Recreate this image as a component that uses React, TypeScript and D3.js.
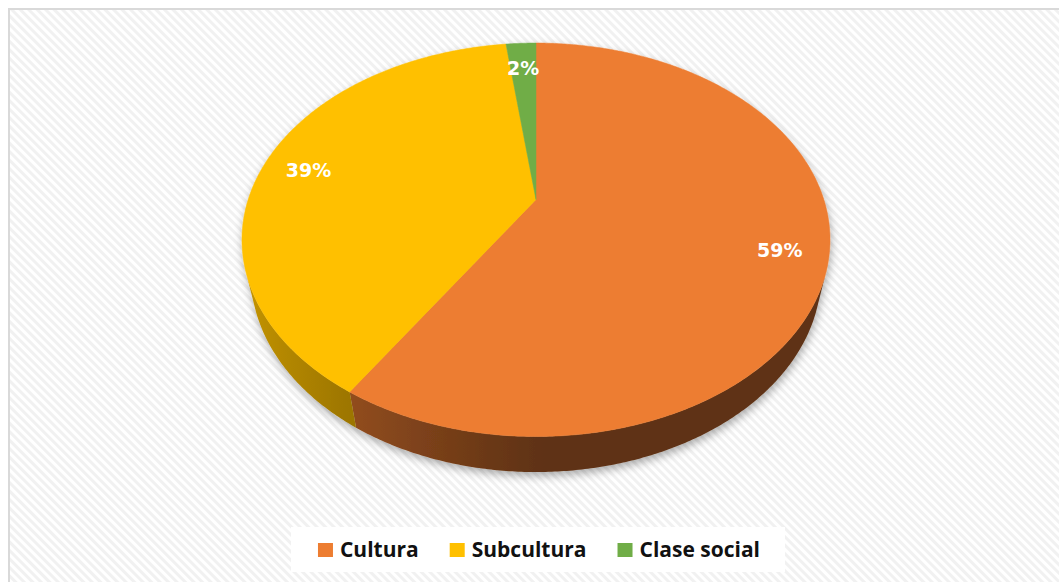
import * as d3 from "d3";
import React, { useEffect, useRef } from "react";

// chart data
const categories = ["Cultura", "Subcultura", "Clase social"];
const values = [59, 39, 2];
const labels = ["59%", "39%", "2%"];
const colors = ["#ED7D31", "#FFC000", "#70AD47"];

const W = 1059;
const H = 582;

// 3D view of the pie (unit radius, perspective camera)
const CX = 536;
const CY = 199.6;
const FOCAL = 1065;
const DIST = 3.7;
const SIN_A = 0.655;
const COS_A = Math.sqrt(1 - SIN_A * SIN_A);
const DEPTH = 0.167;
const LABEL_R = 0.84;

const project = (r: number, theta: number, y: number): [number, number] => {
  const X = r * Math.sin(theta);
  const Z = r * Math.cos(theta);
  const yc = y * COS_A + Z * SIN_A;
  const zc = -y * SIN_A + Z * COS_A + DIST;
  return [CX + (FOCAL * X) / zc, CY - (FOCAL * yc) / zc];
};

const shade = (color: string, theta: number) => {
  const k = 0.4 + 0.4 * Math.max(0, -Math.sin(theta));
  const c = d3.rgb(color);
  return d3.rgb(c.r * k, c.g * k, c.b * k).formatHex();
};

const App = () => {
  const ref = useRef<SVGSVGElement>(null);

  useEffect(() => {
    const svg = d3.select(ref.current);
    svg.selectAll("*").remove();

    const defs = svg.append("defs");
    const pat = defs
      .append("pattern")
      .attr("id", "hatch")
      .attr("patternUnits", "userSpaceOnUse")
      .attr("width", 6)
      .attr("height", 6)
      .attr("patternTransform", "rotate(-45)");
    pat.append("rect").attr("width", 6).attr("height", 6).attr("fill", "#ffffff");
    pat.append("rect").attr("width", 3).attr("height", 6).attr("fill", "#f1f1f1");

    const filt = defs
      .append("filter")
      .attr("id", "shadow")
      .attr("x", "-10%")
      .attr("y", "-10%")
      .attr("width", "120%")
      .attr("height", "130%");
    filt
      .append("feDropShadow")
      .attr("dx", 1)
      .attr("dy", 4)
      .attr("stdDeviation", 4)
      .attr("flood-color", "#000")
      .attr("flood-opacity", 0.32);

    // chart area
    svg
      .append("rect")
      .attr("x", 9)
      .attr("y", 9)
      .attr("width", W + 50)
      .attr("height", H + 50)
      .attr("fill", "url(#hatch)")
      .attr("stroke", "#d9d9d9")
      .attr("stroke-width", 2);

    const arcs = d3.pie<number>().sort(null).value((d) => d)(values);
    const step = Math.PI / 360;
    const line = d3.line();
    const pie = svg.append("g").attr("filter", "url(#shadow)");

    // outer walls, only the part that faces the camera
    const lim = Math.acos(-1 / (DIST * COS_A)); // visible for theta in (lim, 2PI - lim)
    const walls = pie.append("g");
    arcs.forEach((a, i) => {
      const t0 = Math.max(a.startAngle, lim);
      const t1 = Math.min(a.endAngle, 2 * Math.PI - lim);
      if (t1 <= t0) return;
      const n = Math.max(2, Math.ceil((t1 - t0) / step));
      const ts = d3.range(n + 1).map((k) => t0 + ((t1 - t0) * k) / n);
      const pts = [
        ...ts.map((t) => project(1, t, 0)),
        ...ts.slice().reverse().map((t) => project(1, t, -DEPTH)),
      ];
      const xa = project(1, t0, 0)[0];
      const xb = project(1, t1, 0)[0];
      const grad = defs
        .append("linearGradient")
        .attr("id", `wall${i}`)
        .attr("gradientUnits", "userSpaceOnUse")
        .attr("x1", xa)
        .attr("x2", xb)
        .attr("y1", 0)
        .attr("y2", 0);
      const m = 12;
      d3.range(m + 1).forEach((k) => {
        const t = t0 + ((t1 - t0) * k) / m;
        const x = project(1, t, 0)[0];
        grad
          .append("stop")
          .attr("offset", xb === xa ? 0 : (x - xa) / (xb - xa))
          .attr("stop-color", shade(colors[i], t));
      });
      walls
        .append("path")
        .attr("d", line(pts as [number, number][]) + "Z")
        .attr("fill", `url(#wall${i})`);
    });

    // top faces
    const tops = pie.append("g");
    arcs.forEach((a, i) => {
      const pts: [number, number][] = [project(0, 0, 0)];
      const n = Math.max(2, Math.ceil((a.endAngle - a.startAngle) / step));
      for (let k = 0; k <= n; k++) {
        pts.push(project(1, a.startAngle + ((a.endAngle - a.startAngle) * k) / n, 0));
      }
      tops
        .append("path")
        .attr("d", line(pts) + "Z")
        .attr("fill", colors[i])
        .attr("stroke", colors[i])
        .attr("stroke-width", 0.5);
    });

    // data labels
    svg
      .append("g")
      .selectAll("text")
      .data(arcs)
      .join("text")
      .attr("transform", (a) => {
        const [x, y] = project(LABEL_R, (a.startAngle + a.endAngle) / 2, 0);
        return `translate(${x},${y + 4})`;
      })
      .attr("text-anchor", "middle")
      .attr("dy", "0.36em")
      .attr("fill", "#ffffff")
      .attr("font-family", "'DejaVu Sans', Verdana, sans-serif")
      .attr("font-weight", "bold")
      .attr("font-size", 19)
      .text((a, i) => labels[i]);

    // legend
    const leg = svg.append("g");
    const box = leg.append("rect").attr("fill", "#ffffff");
    const items = leg.selectAll("g").data(categories).join("g");
    items
      .append("rect")
      .attr("y", -14)
      .attr("width", 15)
      .attr("height", 14)
      .attr("fill", (d, i) => colors[i]);
    items
      .append("text")
      .attr("x", 22)
      .attr("fill", "#111111")
      .attr("font-family", "'Open Sans', sans-serif")
      .attr("font-weight", "bold")
      .attr("font-size", 21)
      .text((d) => d);
    let x = 0;
    const starts: number[] = [];
    items.each(function () {
      starts.push(x);
      const tw = (d3.select(this).select("text").node() as SVGTextElement).getComputedTextLength();
      x += 22 + tw + 31;
    });
    const total = x - 31;
    const x0 = 539 - total / 2;
    items.attr("transform", (d, i) => `translate(${x0 + starts[i]},557)`);
    box
      .attr("x", x0 - 27)
      .attr("y", 527)
      .attr("width", total + 52)
      .attr("height", 45);
  }, []);

  return (
    <svg
      ref={ref}
      width={W}
      height={H}
      style={{ position: "fixed", left: 0, top: 0, display: "block", background: "#ffffff" }}
    />
  );
};

export default App;
